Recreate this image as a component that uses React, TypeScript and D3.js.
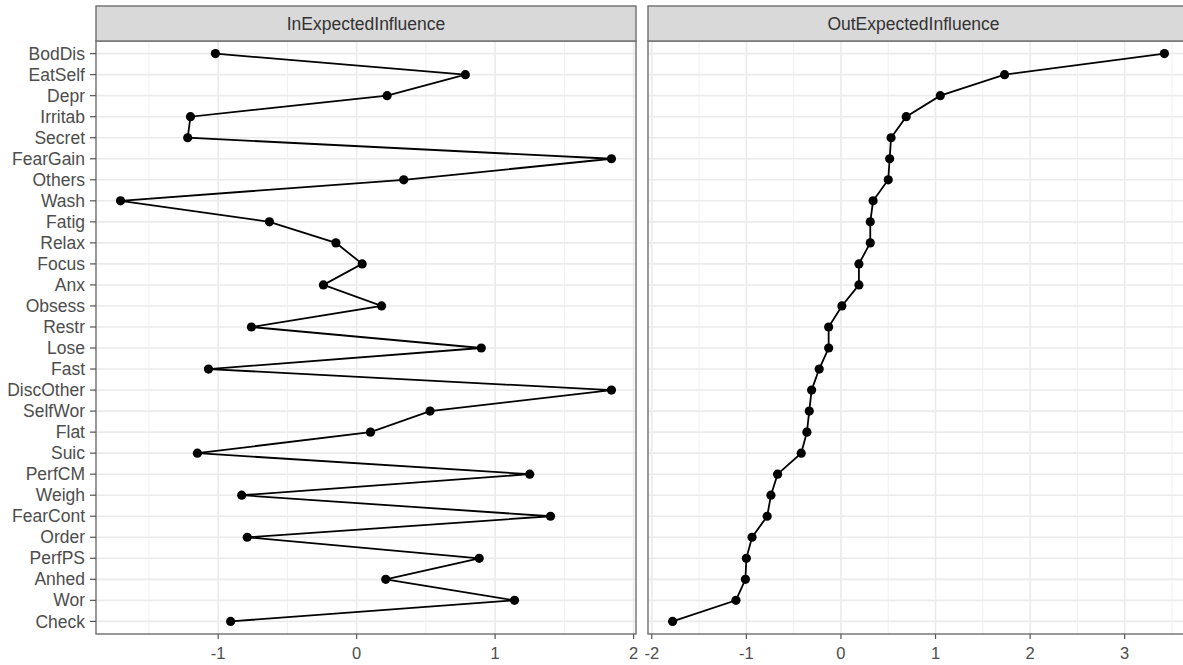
import React, { useEffect, useRef } from "react";
import * as d3 from "d3";

// nodes, top to bottom
const categories = [
  "BodDis", "EatSelf", "Depr", "Irritab", "Secret", "FearGain", "Others",
  "Wash", "Fatig", "Relax", "Focus", "Anx", "Obsess", "Restr", "Lose",
  "Fast", "DiscOther", "SelfWor", "Flat", "Suic", "PerfCM", "Weigh",
  "FearCont", "Order", "PerfPS", "Anhed", "Wor", "Check",
];

const inExpected = [
  -1.02, 0.785, 0.22, -1.2, -1.22, 1.84, 0.34,
  -1.705, -0.63, -0.15, 0.04, -0.24, 0.18, -0.76, 0.9,
  -1.07, 1.84, 0.53, 0.1, -1.15, 1.25, -0.83,
  1.4, -0.79, 0.885, 0.21, 1.14, -0.91,
];

const outExpected = [
  3.42, 1.73, 1.05, 0.69, 0.53, 0.515, 0.5,
  0.34, 0.31, 0.31, 0.19, 0.19, 0.01, -0.13, -0.13,
  -0.23, -0.31, -0.335, -0.36, -0.42, -0.67, -0.74,
  -0.78, -0.94, -1.0, -1.01, -1.11, -1.78,
];

const inTicks = [-1, 0, 1, 2];
const outTicks = [-2, -1, 0, 1, 2, 3];

const panelTitles = ["InExpectedInfluence", "OutExpectedInfluence"];

export default function App() {
  const ref = useRef<SVGSVGElement>(null);

  useEffect(() => {
    const svg = d3.select(ref.current);
    svg.selectAll("*").remove();

    const width = 1183;
    const height = 665;
    const stripTop = 6;
    const panelTop = 41;
    const panelBottom = 634;
    const font = "'Liberation Sans', Arial, sans-serif";

    const panels = [
      { title: panelTitles[0], values: inExpected, ticks: inTicks, x0: 96, x1: 636 },
      { title: panelTitles[1], values: outExpected, ticks: outTicks, x0: 648, x1: 1189 },
    ];

    const y = d3
      .scalePoint<string>()
      .domain(categories)
      .range([panelTop, panelBottom])
      .padding(0.6);

    svg.attr("width", width).attr("height", height).attr("viewBox", [0, 0, width, height]);
    svg.append("rect").attr("width", width).attr("height", height).attr("fill", "#fff");

    panels.forEach((p, i) => {
      const [lo, hi] = d3.extent(p.values) as [number, number];
      const pad = (hi - lo) * 0.05;
      const x = d3.scaleLinear().domain([lo - pad, hi + pad]).range([p.x0, p.x1]);
      const g = svg.append("g");

      // minor grid at the half steps
      const minor: number[] = [];
      p.ticks.forEach(t => {
        [t - 0.5, t + 0.5].forEach(m => {
          if (m > x.domain()[0] && m < x.domain()[1] && !minor.includes(m)) minor.push(m);
        });
      });
      g.append("g")
        .selectAll("line")
        .data(minor)
        .join("line")
        .attr("x1", d => x(d))
        .attr("x2", d => x(d))
        .attr("y1", panelTop)
        .attr("y2", panelBottom)
        .attr("stroke", "#F0F0F0")
        .attr("stroke-width", 1);

      // major grid
      g.append("g")
        .selectAll("line")
        .data(p.ticks)
        .join("line")
        .attr("x1", d => x(d))
        .attr("x2", d => x(d))
        .attr("y1", panelTop)
        .attr("y2", panelBottom)
        .attr("stroke", "#EBEBEB")
        .attr("stroke-width", 1.6);
      g.append("g")
        .selectAll("line")
        .data(categories)
        .join("line")
        .attr("x1", p.x0)
        .attr("x2", p.x1)
        .attr("y1", d => y(d)!)
        .attr("y2", d => y(d)!)
        .attr("stroke", "#EBEBEB")
        .attr("stroke-width", 1.6);

      // the line and points
      const line = d3
        .line<number>()
        .x(d => x(d))
        .y((d, k) => y(categories[k])!);
      g.append("path")
        .datum(p.values)
        .attr("d", line)
        .attr("fill", "none")
        .attr("stroke", "#000")
        .attr("stroke-width", 1.8);
      g.append("g")
        .selectAll("circle")
        .data(p.values)
        .join("circle")
        .attr("cx", d => x(d))
        .attr("cy", (d, k) => y(categories[k])!)
        .attr("r", 4.6)
        .attr("fill", "#000");

      // panel border
      g.append("rect")
        .attr("x", p.x0)
        .attr("y", panelTop)
        .attr("width", p.x1 - p.x0)
        .attr("height", panelBottom - panelTop)
        .attr("fill", "none")
        .attr("stroke", "#6E6E6E")
        .attr("stroke-width", 1.4);

      // strip
      g.append("rect")
        .attr("x", p.x0)
        .attr("y", stripTop)
        .attr("width", p.x1 - p.x0)
        .attr("height", panelTop - stripTop)
        .attr("fill", "#D9D9D9")
        .attr("stroke", "#6E6E6E")
        .attr("stroke-width", 1.4);
      g.append("text")
        .attr("x", (p.x0 + p.x1) / 2 + (i === 1 ? -5 : 0))
        .attr("y", (stripTop + panelTop) / 2)
        .attr("dy", "0.35em")
        .attr("text-anchor", "middle")
        .attr("font-family", font)
        .attr("font-size", 17.5)
        .attr("fill", "#333")
        .text(p.title);

      // x axis
      const xa = g.append("g").attr("transform", `translate(0,${panelBottom})`);
      xa.selectAll("line")
        .data(p.ticks)
        .join("line")
        .attr("x1", d => x(d))
        .attr("x2", d => x(d))
        .attr("y1", 0)
        .attr("y2", 5)
        .attr("stroke", "#555")
        .attr("stroke-width", 1.2);
      xa.selectAll("text")
        .data(p.ticks)
        .join("text")
        .attr("x", d => x(d))
        .attr("y", 19)
        .attr("dy", "0.35em")
        .attr("text-anchor", "middle")
        .attr("font-family", font)
        .attr("font-size", 16.5)
        .attr("fill", "#4D4D4D")
        .text(d => String(d));

      // y axis on the first panel only
      if (i === 0) {
        const ya = g.append("g");
        ya.selectAll("line")
          .data(categories)
          .join("line")
          .attr("x1", p.x0 - 6)
          .attr("x2", p.x0)
          .attr("y1", d => y(d)!)
          .attr("y2", d => y(d)!)
          .attr("stroke", "#555")
          .attr("stroke-width", 1.2);
        ya.selectAll("text")
          .data(categories)
          .join("text")
          .attr("x", p.x0 - 11)
          .attr("y", d => y(d)!)
          .attr("dy", "0.35em")
          .attr("text-anchor", "end")
          .attr("font-family", font)
          .attr("font-size", 17.5)
          .attr("fill", "#4D4D4D")
          .text(d => d);
      }
    });
  }, []);

  return (
    <svg
      ref={ref}
      style={{ position: "absolute", left: 0, top: 0, display: "block" }}
    />
  );
}
